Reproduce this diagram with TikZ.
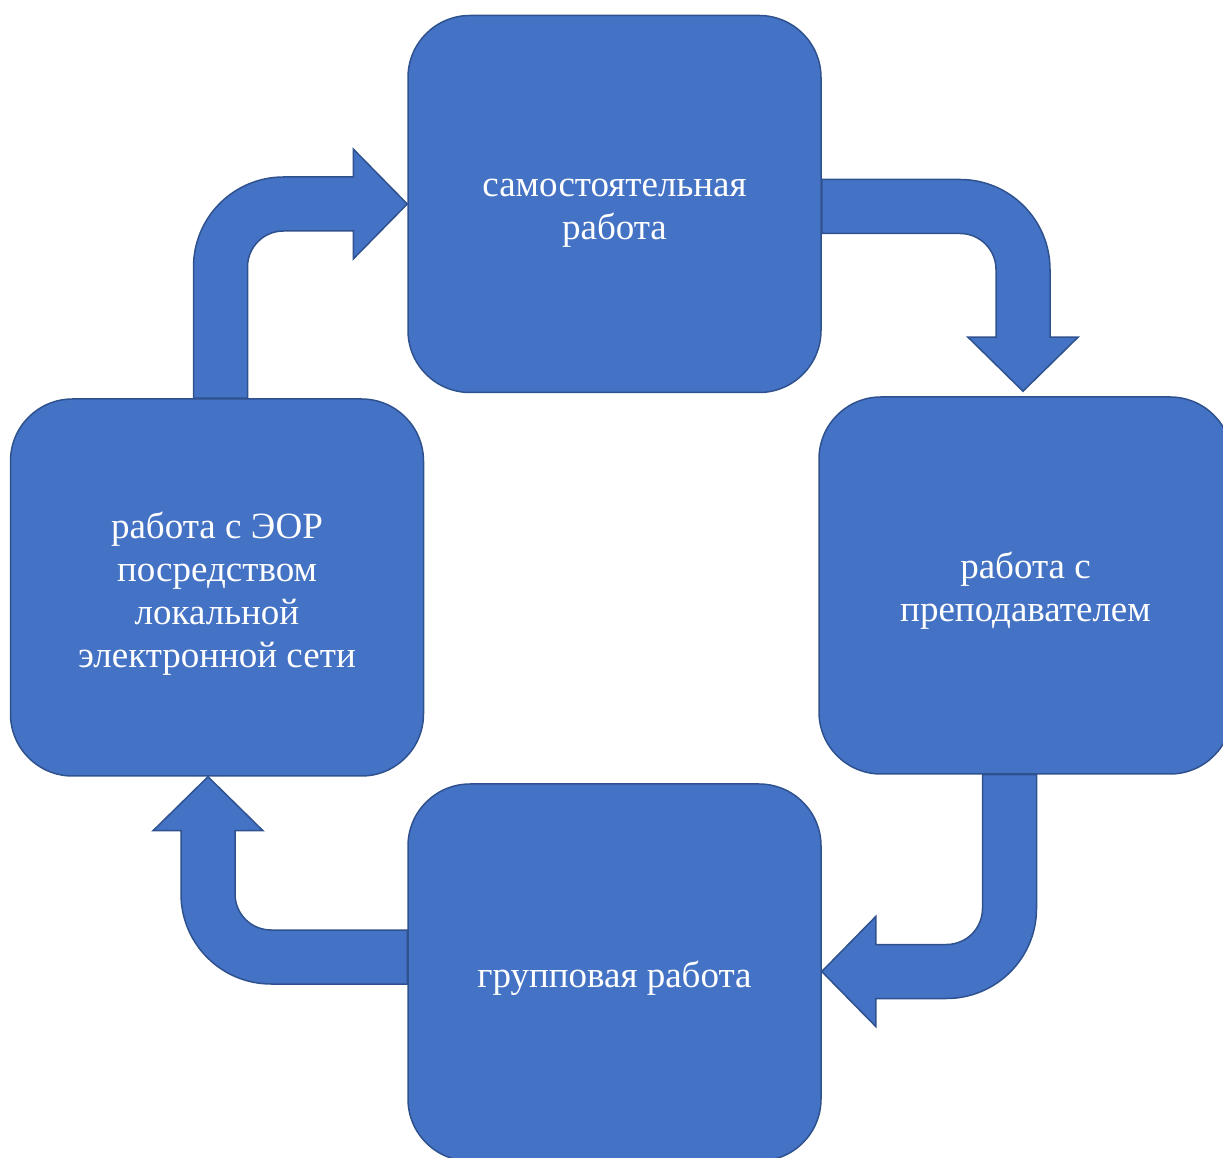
\documentclass[tikz,border=0pt]{standalone}
\usepackage{fontspec}
\setmainfont{Liberation Serif}
\usetikzlibrary{calc,backgrounds}
\definecolor{boxfill}{HTML}{4472C4}
\definecolor{boxline}{HTML}{2F528F}
% bent block arrow geometry
\newcommand{\shafthalf}{27pt}
\newcommand{\bendouter}{90pt}
\newcommand{\bendinner}{36pt}
\newcommand{\headhalf}{55pt}
\newcommand{\headlen}{54pt}
\begin{document}
\begin{tikzpicture}[x=1pt,y=1pt,
  stage/.style={draw=boxline, fill=boxfill, line width=1.5pt,
    rounded corners=62pt, minimum width=413pt, minimum height=377pt,
    inner sep=0pt},
  caption/.style={text=white, align=center, inner sep=0pt,
    font=\fontsize{37}{43}\selectfont},
  bent/.style={draw=boxline, fill=boxfill, line width=1.5pt, line join=miter}]
\useasboundingbox (0,0) rectangle (1223,1157);
\clip (0,0) rectangle (1223,1157);

\node[stage] (top)    at (614.5,953)    {};
\node[stage] (right)  at (1025.5,571.5) {};
\node[stage] (bottom) at (614.5,184.5)  {};
\node[stage] (left)   at (217,569.5)    {};

\node[caption] (top-t)    at ([yshift=-9pt]top.center)    {самостоятельная\\работа};
\node[caption] (right-t)  at ([yshift=-5pt]right.center)  {работа с\\преподавателем};
\node[caption] (bottom-t) at ([yshift=-6pt]bottom.center) {групповая работа};
\node[caption] (left-t)   at ([yshift=-6pt]left.center)   {работа с ЭОР\\посредством\\локальной\\электронной сети};

\begin{scope}[on background layer]
% top -> right
\draw[bent] let \p1=($(top.east)+(0,-2.5)$), \p2=($(right.north)+(-2.5,5)$) in
  (\x1,\y1+\shafthalf) -- (\x2+\shafthalf-\bendouter,\y1+\shafthalf)
  arc[start angle=90, end angle=0, radius=\bendouter]
  -- (\x2+\shafthalf,\y2+\headlen) -- (\x2+\headhalf,\y2+\headlen)
  -- (\x2,\y2) -- (\x2-\headhalf,\y2+\headlen) -- (\x2-\shafthalf,\y2+\headlen)
  -- (\x2-\shafthalf,\y1-\shafthalf-\bendinner)
  arc[start angle=0, end angle=90, radius=\bendinner]
  -- (\x1,\y1-\shafthalf) -- cycle;
% right -> bottom
\draw[bent] let \p1=($(right.south)+(-16,0)$), \p2=($(bottom.east)+(0,1)$) in
  (\x1-\shafthalf,\y1) -- (\x1+\shafthalf,\y1)
  -- (\x1+\shafthalf,\y2-\shafthalf+\bendouter)
  arc[start angle=0, end angle=-90, radius=\bendouter]
  -- (\x2+\headlen,\y2-\shafthalf) -- (\x2+\headlen,\y2-\headhalf)
  -- (\x2,\y2) -- (\x2+\headlen,\y2+\headhalf) -- (\x2+\headlen,\y2+\shafthalf)
  -- (\x1-\shafthalf-\bendinner,\y2+\shafthalf)
  arc[start angle=-90, end angle=0, radius=\bendinner]
  -- cycle;
% bottom -> left
\draw[bent] let \p1=($(bottom.west)+(0,15.5)$), \p2=($(left.south)+(-9,0)$) in
  (\x1,\y1+\shafthalf) -- (\x1,\y1-\shafthalf)
  -- (\x2-\shafthalf+\bendouter,\y1-\shafthalf)
  arc[start angle=-90, end angle=-180, radius=\bendouter]
  -- (\x2-\shafthalf,\y2-\headlen) -- (\x2-\headhalf,\y2-\headlen)
  -- (\x2,\y2) -- (\x2+\headhalf,\y2-\headlen) -- (\x2+\shafthalf,\y2-\headlen)
  -- (\x2+\shafthalf,\y1+\shafthalf+\bendinner)
  arc[start angle=180, end angle=270, radius=\bendinner]
  -- cycle;
% left -> top
\draw[bent] let \p1=($(left.north)+(3.5,0)$), \p2=(top.west) in
  (\x1+\shafthalf,\y1) -- (\x1-\shafthalf,\y1)
  -- (\x1-\shafthalf,\y2+\shafthalf-\bendouter)
  arc[start angle=180, end angle=90, radius=\bendouter]
  -- (\x2-\headlen,\y2+\shafthalf) -- (\x2-\headlen,\y2+\headhalf)
  -- (\x2,\y2) -- (\x2-\headlen,\y2-\headhalf) -- (\x2-\headlen,\y2-\shafthalf)
  -- (\x1+\shafthalf+\bendinner,\y2-\shafthalf)
  arc[start angle=90, end angle=180, radius=\bendinner]
  -- cycle;
\end{scope}
\end{tikzpicture}
\end{document}
